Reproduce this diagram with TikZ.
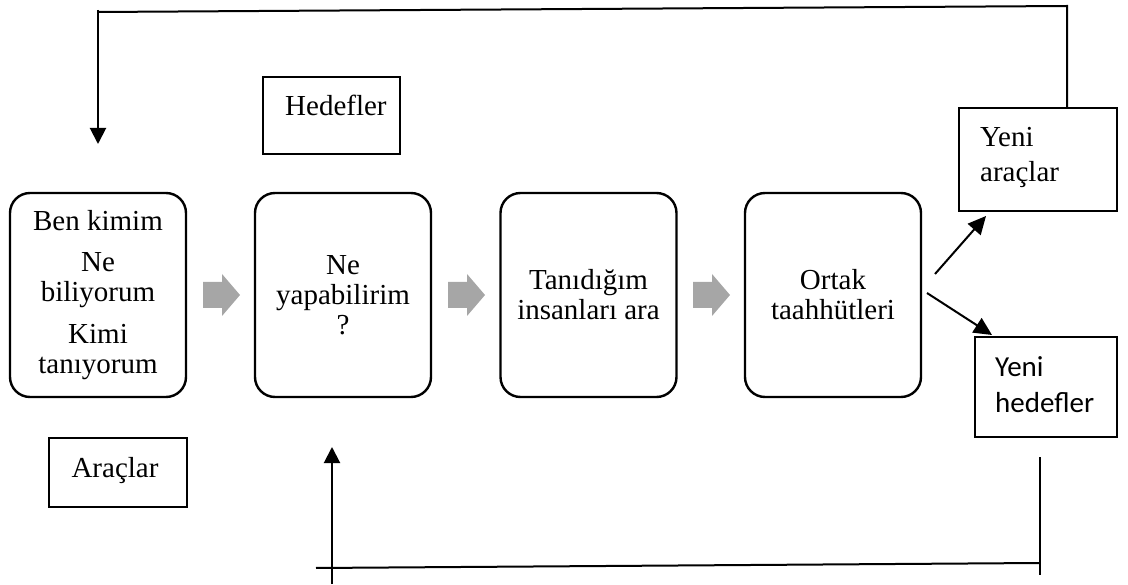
\documentclass[tikz,border=0pt]{standalone}
\usepackage{fontspec}
\setmainfont{Liberation Serif}
\newfontfamily\calibrifont{Carlito}
\usetikzlibrary{arrows.meta,calc}
\definecolor{arrowgray}{RGB}{166,166,166}
\tikzset{
  txt/.style={font=\fontsize{29}{30}\selectfont, inner sep=0pt},
  stagebox/.style={draw, line width=2.4pt, rounded corners=20pt,
    minimum width=176pt, minimum height=204pt, inner sep=0pt,
    align=center, font=\fontsize{29}{30}\selectfont},
  tagbox/.style={draw, line width=1.9pt, inner sep=0pt},
  link/.style={line width=2pt},
  linkarrow/.style={line width=2pt, -{Triangle[length=16pt,width=16pt]}},
}
\newcommand{\grayarrow}[1]{%
  \fill[arrowgray] ($(#1)+(-18.5,-13)$) -- ($(#1)+(0.5,-13)$) -- ($(#1)+(0.5,-21)$)
    -- ($(#1)+(18.5,0)$) -- ($(#1)+(0.5,21)$) -- ($(#1)+(0.5,13)$)
    -- ($(#1)+(-18.5,13)$) -- cycle;}
\begin{document}
\begin{tikzpicture}[x=1pt,y=-1pt]
\useasboundingbox (0,0) rectangle (1128,585);

% main process stages
\node[stagebox] (b1) at (98,295) {Ben kimim\\[11pt]Ne\\biliyorum\\[12pt]Kimi\\tanıyorum};
\node[stagebox] (b2) at (343,295) {Ne\\yapabilirim\\?};
\node[stagebox] (b3) at (588.5,295) {Tanıdığım\\insanları ara};
\node[stagebox] (b4) at (833,295) {Ortak\\taahhütleri};

% gray block arrows between the stages
\coordinate (g1) at (221.5,295);
\coordinate (g2) at (466.5,295);
\coordinate (g3) at (711.5,295);
\grayarrow{g1}
\grayarrow{g2}
\grayarrow{g3}

% side labels
\node[tagbox, minimum width=137pt, minimum height=77pt] (hed) at (331.5,115.5) {};
\node[txt, anchor=base west] (hedT) at (285,116) {Hedefler};

\node[tagbox, minimum width=138pt, minimum height=69pt] (arc) at (118,472.5) {};
\node[txt, anchor=base] (arcT) at (115,477) {Araçlar};

\node[tagbox, minimum width=158pt, minimum height=103pt] (ya) at (1038,159.5) {};
\node[txt, anchor=base west] (yaT1) at (980,147) {Yeni};
\node[txt, anchor=base west] (yaT2) at (980,182) {araçlar};

\node[tagbox, minimum width=142pt, minimum height=100pt] (yh) at (1046,387) {};
\node[txt, font=\calibrifont\fontsize{29}{30}\selectfont, anchor=base west] (yhT1) at (995,377) {Yeni};
\node[txt, font=\calibrifont\fontsize{29}{30}\selectfont, anchor=base west] (yhT2) at (995,413) {hedefler};

% outgoing arrows from the last stage
\coordinate (d1) at (935,274);
\coordinate (d2) at (927,293);
\draw[linkarrow, -{Triangle[length=18pt,width=17pt]}] (d1) -- (986,216);
\draw[linkarrow, -{Triangle[length=18pt,width=17pt]}] (d2) -- (992,335);

% upper feedback loop
\coordinate (tr) at (1067,6);
\coordinate (tl) at (98,12);
\coordinate (tip1) at (98,144);
\draw[link] (tr |- ya.north) -- (tr) -- (tl);
\draw[linkarrow] (98,10) -- (tip1);

% lower feedback loop
\coordinate (br) at (1040,457);
\coordinate (brb) at (1040,575);
\coordinate (bh1) at (1040,563);
\coordinate (bh2) at (316,568);
\coordinate (bl) at (332,584);
\coordinate (tip2) at (332,447);
\draw[link] (br) -- (brb);
\draw[link] (bh1) -- (bh2);
\draw[linkarrow] (bl) -- (tip2);
\end{tikzpicture}
\end{document}
